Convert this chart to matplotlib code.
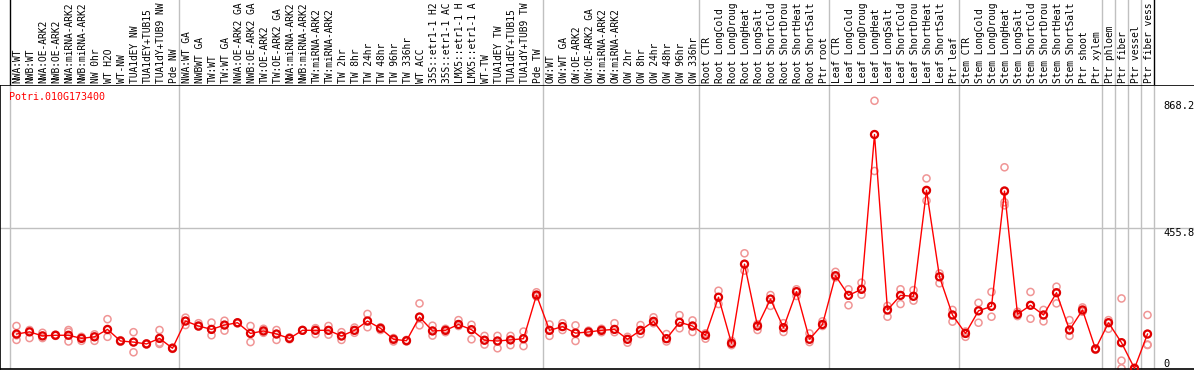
import matplotlib
matplotlib.use('Agg')
import matplotlib.pyplot as plt
import matplotlib.transforms as mtransforms
import numpy as np

gene = 'Potri.010G173400'

# labels as far as they are visible in the header strip
labels = [
    # NW group
    'NWA:WT', 'NWB:WT', 'NWA:OE-ARK2', 'NWB:OE-ARK2', 'NWA:miRNA-ARK2', 'NWB:miRNA-ARK2',
    'NW 0hr', 'WT H2O', 'WT-NW', 'TUA1dEY NW', 'TUA1dEY+TUB15', 'TUA1dY+TUB9 NW', 'Pde NW',
    # TW group
    'NWA:WT GA', 'NWBWT GA', 'TW:WT', 'TW:WT GA', 'NWA:OE-ARK2 GA', 'NWB:OE-ARK2 GA',
    'TW:OE-ARK2', 'TW:OE-ARK2 GA', 'NWA:miRNA-ARK2', 'NWB:miRNA-ARK2', 'TW:miRNA-ARK2',
    'TW:miRNA-ARK2', 'TW 2hr', 'TW 8hr', 'TW 24hr', 'TW 48hr', 'TW 96hr', 'TW 336hr',
    'WT ACC', '35S::etr1-1 H2', '35S::etr1-1 AC', 'LMX5::etr1-1 H', 'LMX5::etr1-1 A',
    'WT-TW', 'TUA1dEY TW', 'TUA1dEY+TUB15', 'TUA1dY+TUB9 TW', 'Pde TW',
    # OW group
    'OW:WT', 'OW:WT GA', 'OW:OE-ARK2', 'OW:OE-ARK2 GA', 'OW:miRNA-ARK2', 'OW:miRNA-ARK2',
    'OW 2hr', 'OW 8hr', 'OW 24hr', 'OW 48hr', 'OW 96hr', 'OW 336hr',
    # root
    'Root CTR', 'Root LongCold', 'Root LongDroug', 'Root LongHeat', 'Root LongSalt',
    'Root ShortCold', 'Root ShortDrou', 'Root ShortHeat', 'Root ShortSalt', 'Ptr root',
    # leaf
    'Leaf CTR', 'Leaf LongCold', 'Leaf LongDroug', 'Leaf LongHeat', 'Leaf LongSalt',
    'Leaf ShortCold', 'Leaf ShortDrou', 'Leaf ShortHeat', 'Leaf ShortSalt', 'Ptr leaf',
    # stem
    'Stem CTR', 'Stem LongCold', 'Stem LongDroug', 'Stem LongHeat', 'Stem LongSalt',
    'Stem ShortCold', 'Stem ShortDrou', 'Stem ShortHeat', 'Stem ShortSalt', 'Ptr shoot',
    'Ptr xylem',
    # single tissues
    'Ptr phloem', 'Ptr fiber', 'Ptr vessel', 'Ptr fiber vess',
]

group_sizes = [13, 28, 12, 10, 10, 11, 1, 1, 1, 1]

means = [
    114, 121, 108, 110, 110, 100, 105, 129, 91.5, 88, 82, 100, 68,
    156, 140, 129, 143, 150.6, 116, 124, 114, 100, 126, 126, 126, 107.6, 126,
    156, 132.5, 97, 92.4, 169, 124, 126, 145, 128, 94, 91.5, 95, 99, 240,
    126, 138, 117, 120.6, 126, 129, 97, 126, 155, 99, 152, 140,
    110, 233, 84, 340, 140, 227, 134.5, 251, 97, 145,
    302.5, 239, 258.6, 759, 191.7, 239, 236, 578.5, 299, 175.5,
    116, 189, 203.6, 576, 178, 207, 175.5, 247.6, 127, 191.7, 65.6,
    150.6, 86, 3, 114,
]

replicates = [
    [140, 110, 95], [127, 121, 101], [118, 108, 101], [112, 110, 108], [127, 121, 90],
    [105, 100, 92], [113, 105, 92], [162, 127, 105], [94, 91, 89], [120, 88, 55],
    [84, 82, 80], [127, 100, 86, 82], [70, 68, 66],
    [167, 156, 143], [149, 140, 138], [151, 129, 110], [157, 143, 125], [151, 150, 148],
    [140, 116, 88], [131, 124, 118], [127, 114, 95], [103, 100, 97], [127, 126, 125],
    [133, 126, 114], [140, 126, 112], [120, 107.6, 95], [135, 126, 118], [179, 156, 136],
    [136, 132.5, 127], [101, 97, 90], [95, 92.4, 90], [213, 169, 142], [141, 124, 109],
    [131, 126, 120], [159, 145, 140], [144, 128, 97], [108, 94, 80], [108, 91.5, 68],
    [108, 95, 78], [122, 99, 75], [249, 240, 235],
    [145, 126, 108], [149, 138, 127], [142, 117, 91.5], [125, 120.6, 117], [131, 126, 120],
    [149, 129, 120], [105, 97, 86], [143, 126, 114], [168, 155, 149], [114, 99, 90],
    [175, 152, 132.5], [158, 140, 120.6],
    [116, 110, 99], [254, 233, 211], [92, 84, 78], [375, 340, 319], [146, 140, 127],
    [240, 227, 205], [149, 134.5, 120.6], [258.6, 251, 237], [116, 97, 88], [155, 145, 140],
    [315, 302.5, 297], [258.6, 239, 207], [280, 258.6, 241], [868, 759, 641], [205, 191.7, 170],
    [258.6, 239, 211], [256, 236, 222], [617, 576, 545], [310, 299, 278], [192, 175.5, 154],
    [122, 116, 105], [215, 189, 150.6], [250, 203.6, 170], [653, 578, 540, 530], [186, 178, 172],
    [250, 207, 163.5], [192, 175.5, 155], [267, 247.6, 213], [159, 127, 108], [200, 191.7, 186],
    [67, 65.6, 63],
    [159, 150.6, 131], [229, 86, 28, 3], [5, 3, 1], [175.5, 114, 78.5, 80],
]

ytick_values = [868.2, 455.8, 0]

# ---- layout in pixels (figure is 1194 x 370) ----
W, H = 1194, 370
plot_top, plot_bottom = 85, 369.3
col_w, first_center = 13, 16.5
ymax = 919
mono = 'DejaVu Sans Mono'
grid_col = '#c0c0c0'

fig = plt.figure(figsize=(W / 100, H / 100), dpi=100)
ax = fig.add_axes([0, (H - plot_bottom) / H, 1, (plot_bottom - plot_top) / H])
hax = fig.add_axes([0, (H - plot_top) / H, 1, plot_top / H])

n = len(labels)
idx = np.arange(n)
xlim = (-first_center / col_w, (W - first_center) / col_w)
for a in (ax, hax):
    a.set_xlim(*xlim)
    a.set_xticks([])
    a.set_yticks([])
ax.set_ylim(0, ymax)
hax.set_ylim(0, 1)
for s in hax.spines.values():
    s.set_visible(False)
ax.spines['right'].set_visible(False)
for s in ('left', 'top', 'bottom'):
    ax.spines[s].set_color('black')
    ax.spines[s].set_linewidth(1.2)

# group separators
starts = np.concatenate([[0], np.cumsum(group_sizes)])
bounds = starts - 0.5
for i, b in enumerate(bounds):
    ax.axvline(b, color=grid_col, lw=1, zorder=1)
    edge = i == 0 or i == len(bounds) - 1
    hax.axvline(b, color='black' if edge else grid_col, lw=1)
ax.axhline(455.8, color=grid_col, lw=1, zorder=1)

# replicate samples
rx = [i for i, r in enumerate(replicates) for _ in r]
ry = [v for r in replicates for v in r]
ax.scatter(rx, ry, s=26, facecolors='none', edgecolors='#f09595', linewidths=1.1,
           zorder=2, clip_on=False)

# means
ax.plot(idx, means, color='red', lw=1.0, zorder=3)
ax.scatter(idx, means, s=26, facecolors='none', edgecolors='#e00000', linewidths=1.6,
           zorder=4, clip_on=False)

# header labels
for i, lab in enumerate(labels):
    hax.text(i + 0.1, 2 / plot_top, lab, rotation=90, ha='center', va='bottom',
             fontsize=6.9, family=mono, color='black')

# gene name
ax.text(9 / W, 1 - 12 / (plot_bottom - plot_top), gene, transform=ax.transAxes,
        color='red', fontsize=7.2, family=mono, ha='left', va='center')

# value labels on the right
trans = mtransforms.blended_transform_factory(ax.transAxes, ax.transData)
for v in ytick_values:
    txt = f'{v:g}' if v == 0 else f'{v:.1f}'
    ax.text(1163 / W, v, txt, transform=trans, fontsize=7.5, family=mono,
            ha='left', va='bottom' if v == 0 else 'top', color='black')

fig.savefig('out.png', dpi=100)
